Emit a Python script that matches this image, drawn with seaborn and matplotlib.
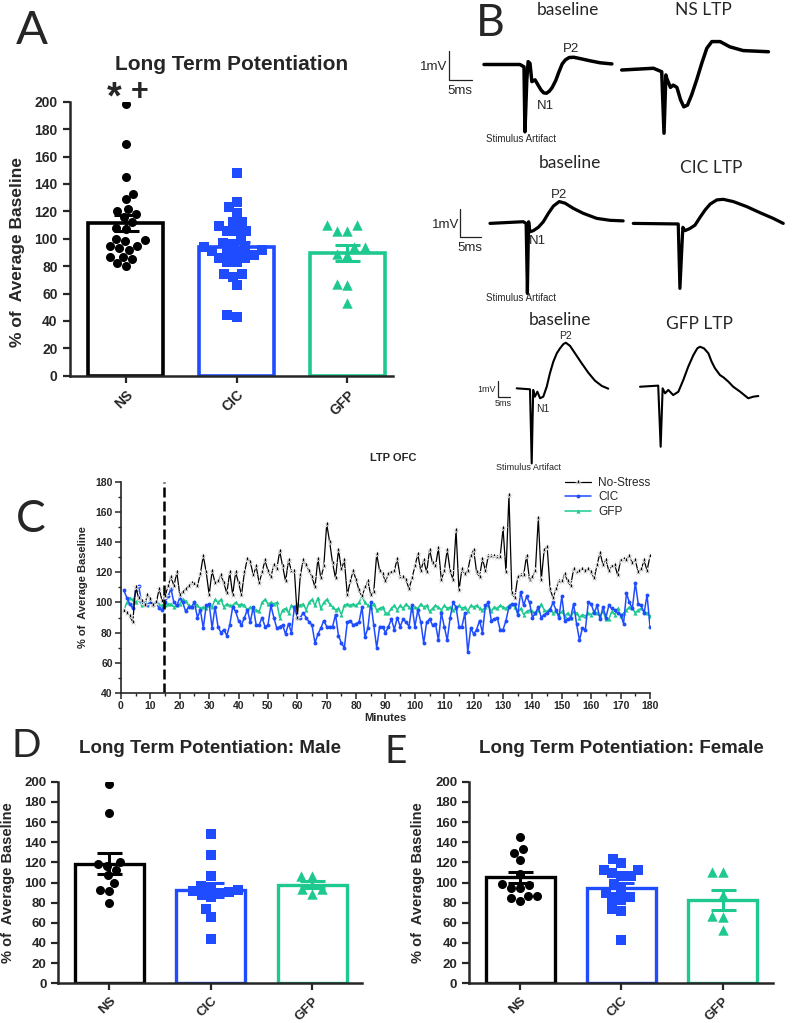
import matplotlib
matplotlib.use("Agg")
import matplotlib.pyplot as plt
from matplotlib.ticker import MultipleLocator
import pandas as pd
import seaborn as sns

# ---- data ----
groups = ["NS", "CIC", "GFP"]

# D: males, E: females; A pools both
ns_male = [198, 169, 120, 118, 116, 112, 107, 100, 93, 92, 80]
cic_male = [148, 127, 106, 96, 97, 92, 91, 90, 88, 93, 86, 74, 66, 44]
gfp_male = [106, 106, 94, 94, 89]
ns_female = [145, 133, 129, 122, 108, 99, 98, 95, 95, 87, 87, 82, 85]
cic_female = [123, 119, 112, 112, 109, 106, 106, 99, 94, 90, 83, 83, 86, 74, 72, 43]
gfp_female = [110, 110, 88, 67, 66, 53]

# C: % of baseline, one sample per minute
minutes = list(range(1, 181))
ns_time = [94, 93, 91, 87, 110, 103, 101, 98, 105, 102,
           98, 100, 109, 101, 104, 111, 117, 111, 120, 105,
           107, 109, 111, 113, 112, 111, 119, 131, 120, 105,
           121, 113, 114, 118, 113, 106, 120, 105, 120, 113,
           105, 120, 129, 127, 118, 124, 113, 120, 128, 121,
           117, 125, 122, 134, 124, 114, 128, 121, 121, 90,
           118, 128, 125, 121, 117, 110, 129, 116, 124, 152,
           140, 126, 116, 135, 122, 128, 105, 114, 121, 115,
           108, 104, 110, 114, 105, 107, 132, 121, 119, 114,
           119, 120, 121, 129, 117, 117, 115, 109, 116, 124,
           132, 121, 128, 120, 135, 126, 124, 136, 115, 121,
           135, 121, 115, 148, 108, 122, 119, 121, 131, 135,
           120, 117, 129, 121, 131, 131, 131, 130, 130, 149,
           120, 171, 106, 103, 117, 118, 118, 131, 115, 117,
           121, 156, 115, 135, 137, 109, 103, 109, 114, 114,
           119, 114, 111, 122, 120, 121, 122, 121, 122, 120,
           116, 125, 133, 125, 128, 121, 124, 125, 118, 128,
           129, 128, 131, 126, 128, 120, 122, 128, 121, 131]
cic_time = [108, 103, 99, 96, 108, 111, 100, 99, 98, 100,
            98, 100, 96, 95, 100, 104, 109, 100, 98, 103,
            100, 94, 97, 97, 100, 90, 95, 83, 98, 99,
            83, 97, 84, 80, 82, 78, 85, 97, 94, 88,
            85, 90, 95, 87, 97, 85, 85, 90, 84, 85,
            98, 90, 83, 84, 85, 79, 86, 80, 97, 90,
            90, 93, 90, 87, 85, 73, 79, 83, 88, 84,
            84, 84, 92, 78, 73, 70, 87, 88, 85, 86,
            87, 97, 77, 83, 100, 85, 70, 84, 84, 80,
            84, 89, 82, 90, 84, 89, 87, 84, 98, 84,
            95, 87, 73, 87, 89, 85, 86, 75, 93, 84,
            75, 90, 100, 97, 84, 84, 93, 67, 83, 79,
            82, 88, 80, 98, 100, 88, 89, 90, 82, 82,
            88, 97, 99, 99, 92, 107, 98, 104, 100, 90,
            93, 97, 90, 92, 93, 95, 100, 95, 90, 104,
            88, 89, 90, 99, 86, 75, 83, 82, 100, 99,
            93, 98, 89, 97, 90, 98, 96, 95, 93, 92,
            86, 106, 100, 96, 113, 99, 98, 93, 105, 84]
gfp_time = [95, 100, 103, 102, 100, 102, 98, 100, 98, 101,
            99, 100, 99, 98, 98, 99, 99, 97, 98, 99,
            102, 101, 98, 97, 100, 98, 96, 97, 96, 98,
            97, 102, 100, 102, 97, 99, 98, 98, 100, 98,
            99, 98, 95, 97, 96, 95, 94, 100, 102, 99,
            100, 99, 100, 90, 95, 96, 93, 98, 97, 99,
            98, 99, 95, 100, 102, 98, 103, 96, 100, 102,
            99, 97, 95, 96, 92, 98, 99, 98, 99, 98,
            100, 104, 100, 98, 97, 99, 95, 96, 97, 93,
            93, 96, 98, 95, 98, 96, 99, 97, 95, 97,
            96, 99, 97, 98, 94, 96, 98, 97, 95, 98,
            96, 97, 95, 96, 98, 96, 97, 94, 98, 97,
            98, 96, 95, 97, 98, 94, 97, 96, 98, 97,
            96, 98, 99, 97, 93, 96, 92, 94, 95, 94,
            93, 95, 99, 95, 94, 96, 93, 94, 92, 94,
            91, 93, 90, 94, 93, 90, 92, 91, 93, 92,
            94, 93, 91, 94, 89, 89, 94, 92, 96, 91,
            93, 95, 97, 96, 93, 95, 96, 94, 93, 91]

# B: example field potentials (time in ms, voltage in mV relative to baseline)
ns_base_t = [0, 7.8, 8.7, 8.9, 9.3, 9.6, 10.0, 10.4, 11.1, 11.8, 12.4, 13.0, 13.6, 14.2,
             14.8, 15.6, 16.3, 17.0, 17.7, 18.5, 19.5, 21.0, 23.0, 25.2, 27.8]
ns_base_v = [0, 0, -0.08, -2.32, -0.53, 0.1, 0.04, -0.59, -0.53, -0.72, -0.88, -0.98, -0.99,
             -0.92, -0.8, -0.55, -0.25, 0.02, 0.16, 0.24, 0.25, 0.2, 0.13, 0.06, 0.02]
ns_ltp_t = [0, 6.9, 8.7, 9.2, 9.6, 9.8, 10.6, 11.2, 12.0, 12.8, 13.5, 14.3, 15.2, 16.3,
            17.4, 18.5, 19.6, 21.4, 23.5, 26.4, 31.9]
ns_ltp_v = [-0.19, -0.13, -0.25, -2.37, -0.36, -0.48, -0.79, -0.71, -0.79, -1.22, -1.46,
            -1.4, -1.05, -0.53, 0.04, 0.56, 0.79, 0.79, 0.61, 0.48, 0.44]
cic_base_t = [0, 7.9, 8.6, 8.9, 9.2, 9.5, 10.3, 11.5, 12.7, 13.9, 15.1, 16.5, 17.9, 19.8,
              22.2, 25.4, 28.6, 31.7]
cic_base_v = [-0.05, 0.01, -0.05, -2.55, 0.01, -0.35, -0.31, -0.19, 0.01, 0.31, 0.57, 0.73,
              0.67, 0.49, 0.31, 0.13, 0.06, 0.04]
cic_ltp_t = [0, 10.7, 11.1, 11.8, 12.3, 13.5, 14.7, 15.9, 17.1, 18.3, 19.9, 21.4, 23.8,
             27.0, 30.2, 33.3, 35.7]
cic_ltp_v = [-0.05, -0.07, -2.37, -0.19, -0.31, -0.23, -0.11, 0.17, 0.43, 0.64, 0.79, 0.81,
             0.73, 0.55, 0.33, 0.13, -0.05]
gfp_base_t = [0, 5.4, 6.1, 6.7, 7.4, 8.4, 9.5, 10.8, 12.2, 13.5, 14.9, 16.3, 17.6, 19.0,
              20.0, 21.7, 23.7, 26.4, 29.1, 31.8, 34.6, 37.2]
gfp_base_v = [0.01, -0.05, -4.68, -0.09, -0.51, -0.2, -0.61, -0.51, 0.11, 0.95, 1.68, 2.2,
              2.51, 2.78, 2.86, 2.66, 2.2, 1.58, 0.99, 0.49, 0.16, -0.01]
gfp_ltp_t = [0, 7.4, 8.4, 9.2, 10.2, 11.5, 13.5, 15.6, 17.6, 19.6, 21.7, 23.3, 24.4, 26.0,
             27.8, 29.1, 30.5, 32.5, 33.9, 35.9, 37.9, 40.7, 44.0, 46.1, 48.1]
gfp_ltp_v = [0.11, 0.18, -3.64, 0.01, -0.3, -0.09, -0.41, -0.2, 0.53, 1.36, 2.09, 2.51, 2.61,
             2.51, 2.2, 1.68, 1.26, 0.84, 0.7, 0.43, 0.11, -0.2, -0.61, -0.51, -0.47]

# ---- style ----
sns.set_style("ticks")
plt.rcParams["font.family"] = ["Liberation Sans", "DejaVu Sans"]
plt.rcParams["font.weight"] = "bold"
plt.rcParams["axes.labelweight"] = "bold"

colors = {"NS": "#000000", "CIC": "#1f4cff", "GFP": "#1ec98f"}
markers = {"NS": "o", "CIC": "s", "GFP": "^"}
sizes = {"NS": 6.5, "CIC": 6.5, "GFP": 7.5}

W, H = 796, 1023
fig = plt.figure(figsize=(W / 100, H / 100), dpi=100)


def box(left, top, right, bottom):
    return [left / W, 1 - bottom / H, (right - left) / W, (bottom - top) / H]


def fig_text(x, y, s, **kw):
    fig.text(x / W, 1 - y / H, s, **kw)


def bar_panel(ax, values, xmax, fs_tick, fs_label, title, fs_title, title_y, ylab_xy, lw):
    df = pd.DataFrame([(g, v) for g in groups for v in values[g]], columns=["group", "value"])
    sns.barplot(data=df, x="group", y="value", hue="group", order=groups, hue_order=groups,
                palette=colors, fill=False, errorbar=None, width=0.68, linewidth=lw,
                legend=False, ax=ax)
    for g in groups:
        sns.swarmplot(data=df[df.group == g], x="group", y="value", order=groups,
                      color=colors[g], marker=markers[g], size=sizes[g], ax=ax, zorder=3)
    stats = df.groupby("group")["value"].agg(["mean", "sem"])
    for i, g in enumerate(groups):
        ax.errorbar(i, stats.loc[g, "mean"], yerr=stats.loc[g, "sem"], color=colors[g],
                    capsize=9, elinewidth=2.2, capthick=2.2, zorder=4)
    ax.set_xlim(-0.505, xmax)
    ax.set_ylim(0, 200)
    ax.set_yticks(range(0, 201, 20))
    ax.set_xticks(range(3))
    ax.set_xticklabels(groups, rotation=45, ha="right", rotation_mode="anchor",
                       fontsize=fs_tick, fontweight="bold")
    ax.tick_params(axis="y", labelsize=fs_tick)
    ax.tick_params(width=1.6, length=5)
    for s in ["left", "bottom"]:
        ax.spines[s].set_linewidth(1.8)
    sns.despine(ax=ax)
    ax.set_xlabel("")
    ax.set_ylabel("% of  Average Baseline", fontsize=fs_label)
    ax.yaxis.set_label_coords(*ylab_xy)
    ax.text(0.5, title_y, title, transform=ax.transAxes, ha="center", va="center",
            fontsize=fs_title, fontweight="bold")


# ---- A ----
axA = fig.add_axes(box(69.5, 101.7, 393, 375.8))
bar_panel(axA, {"NS": ns_male + ns_female, "CIC": cic_male + cic_female,
                "GFP": gfp_male + gfp_female},
          2.41, 10, 12.5, "Long Term Potentiation", 15, 1.134, (-0.138, 0.45), 2.6)
axA.text(-0.105, 0.975, "*", transform=axA.get_xaxis_transform(), ha="center",
         va="baseline", fontsize=27, fontweight="bold", clip_on=False)
axA.text(0.124, 1.008, "+", transform=axA.get_xaxis_transform(), ha="center",
         va="baseline", fontsize=22, fontweight="bold", clip_on=False)

# ---- D / E ----
axD = fig.add_axes(box(58.3, 781.7, 361.7, 983.3))
bar_panel(axD, {"NS": ns_male, "CIC": cic_male, "GFP": gfp_male},
          2.49, 9.5, 10.5, "Long Term Potentiation: Male", 13.5, 1.166, (-0.143, 0.5), 2.4)
axE = fig.add_axes(box(469, 781.7, 773.3, 983.3))
bar_panel(axE, {"NS": ns_female, "CIC": cic_female, "GFP": gfp_female},
          2.5, 9.5, 10.5, "Long Term Potentiation: Female", 13.5, 1.166, (-0.145, 0.5), 2.4)

# ---- C ----
axC = fig.add_axes(box(121, 481.7, 650, 693))
sns.lineplot(x=minutes, y=gfp_time, ax=axC, color=colors["GFP"], marker="^", markersize=3,
             markeredgewidth=0, linewidth=1.1, label="GFP")
sns.lineplot(x=minutes, y=cic_time, ax=axC, color=colors["CIC"], marker="o", markersize=2.8,
             markeredgewidth=0, linewidth=1.1, label="CIC")
sns.lineplot(x=minutes, y=ns_time, ax=axC, color="black", marker="*", markersize=5.5,
             markeredgewidth=0.5, linewidth=0.9, label="No-Stress")
axC.axvline(14.5, color="black", lw=1.8, ls=(0, (4, 1.6)))
axC.set_xlim(0, 180)
axC.set_ylim(40, 180)
axC.xaxis.set_major_locator(MultipleLocator(10))
axC.xaxis.set_minor_locator(MultipleLocator(5))
axC.yaxis.set_major_locator(MultipleLocator(20))
axC.yaxis.set_minor_locator(MultipleLocator(10))
axC.tick_params(which="major", labelsize=7.5, width=1.1, length=4, pad=2)
axC.tick_params(which="minor", width=1.0, length=2.5)
for s in ["left", "bottom"]:
    axC.spines[s].set_linewidth(1.2)
sns.despine(ax=axC)
axC.set_xlabel("Minutes", fontsize=8, labelpad=1)
axC.set_ylabel("% of  Average Baseline", fontsize=8)
axC.yaxis.set_label_coords(-0.062, 0.5)
h, l = axC.get_legend_handles_labels()
order = [l.index(n) for n in ["No-Stress", "CIC", "GFP"]]
axC.legend([h[i] for i in order], [l[i] for i in order], loc="upper left",
           bbox_to_anchor=(565 / W, 1 - 477 / H), bbox_transform=fig.transFigure,
           frameon=False, prop={"weight": "normal", "size": 8.5}, handlelength=2.2,
           labelspacing=0.2, handletextpad=0.6, borderaxespad=0, borderpad=0)
fig_text(393, 458, "LTP OFC", ha="center", va="center", fontsize=8, fontweight="bold")

# ---- B: traces ----
axB = fig.add_axes(box(400, 0, 796, 470))
axB.set_xlim(400, 796)
axB.set_ylim(470, 0)
axB.axis("off")

rows = [
    # x0 baseline, x0 LTP, baseline y, px per ms, px per mV, line width
    (484, 621.7, 64.5, 4.6, 29, 2.5, [(ns_base_t, ns_base_v), (ns_ltp_t, ns_ltp_v)]),
    (490, 633.3, 222, 4.2, 28, 2.3, [(cic_base_t, cic_base_v), (cic_ltp_t, cic_ltp_v)]),
    (516.7, 640, 388.5, 2.46, 16, 1.5, [(gfp_base_t, gfp_base_v), (gfp_ltp_t, gfp_ltp_v)]),
]
for x_base, x_ltp, y0, sx, sy, lw, traces in rows:
    for x0, (t, v) in zip([x_base, x_ltp], traces):
        axB.plot([x0 + ti * sx for ti in t], [y0 - vi * sy for vi in v], color="black",
                 lw=lw, solid_joinstyle="round", solid_capstyle="round")

# scale bars (1 mV, 5 ms)
for bx, by, sx, sy in [(449, 80, 4.6, 29), (460, 237, 4.2, 28), (497.7, 396.5, 2.46, 16)]:
    axB.plot([bx, bx, bx + 5 * sx], [by - sy, by, by], color="#222222", lw=0.9)

tb = dict(ha="center", va="center", fontweight="normal")
lato = ["Lato", "DejaVu Sans"]
axB.text(567.5, 10, "baseline", fontsize=12.5, family=lato, **tb)
axB.text(703.5, 10, "NS LTP", fontsize=12.5, family=lato, **tb)
axB.text(569.5, 163, "baseline", fontsize=12.5, family=lato, **tb)
axB.text(711, 168, "CIC LTP", fontsize=12.5, family=lato, **tb)
axB.text(559.5, 320, "baseline", fontsize=12.5, family=lato, **tb)
axB.text(699.3, 324, "GFP LTP", fontsize=12.5, family=lato, **tb)

for x, y, s, fs in [(571, 48.5, "P2", 9.5), (545.5, 106, "N1", 9.5),
                    (459.5, 91.5, "5ms", 9.5), (521, 139.5, "Stimulus Artifact", 7),
                    (558.7, 195, "P2", 9.5), (537.5, 240.5, "N1", 9.5),
                    (469.5, 248, "5ms", 9.5), (521, 298, "Stimulus Artifact", 7),
                    (566, 336, "P2", 7.5), (543, 409, "N1", 7.5),
                    (503, 403, "5ms", 6.5), (529, 467, "Stimulus Artifact", 6.5)]:
    axB.text(x, y, s, fontsize=fs, **tb)
for x, y, fs in [(447, 67, 9.5), (459, 225, 9.5), (496, 389, 6.5)]:
    axB.text(x, y, "1mV", fontsize=fs, ha="right", va="center", fontweight="normal")

# ---- panel letters ----
for x, y, s, fs in [(31.5, 30.5, "A", 34), (490, 24, "B", 32), (31, 520, "C", 32),
                    (26, 746, "D", 28), (396, 752, "E", 28)]:
    fig_text(x, y, s, ha="center", va="center", fontsize=fs, fontweight="normal",
             family=lato)

fig.savefig("out.png", dpi=100)
